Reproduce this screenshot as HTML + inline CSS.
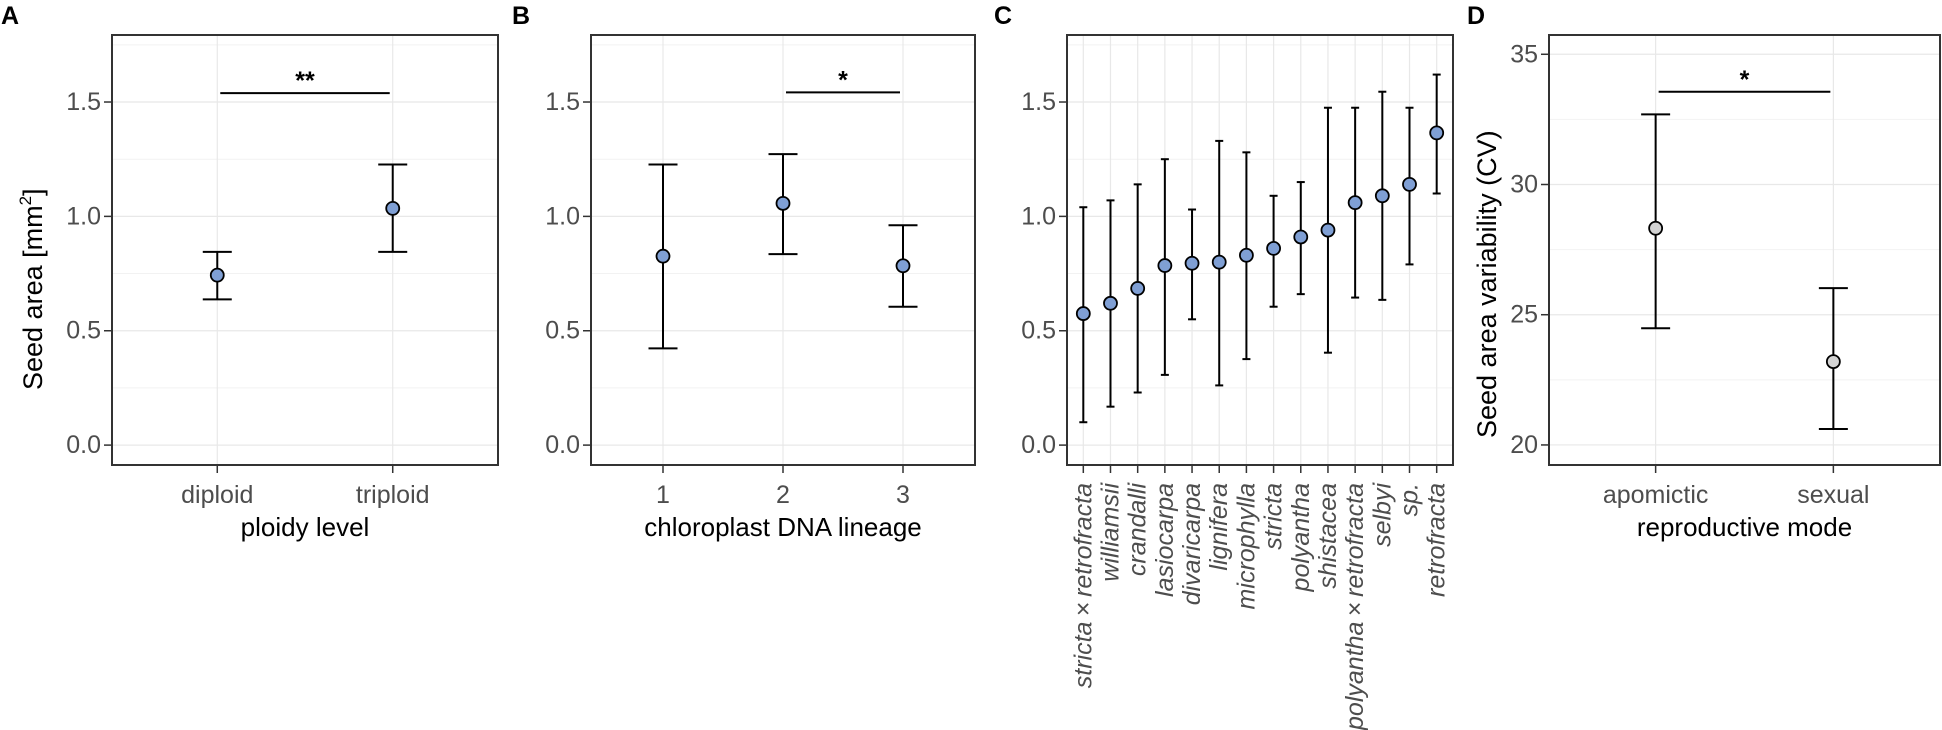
<!DOCTYPE html>
<html><head><meta charset="utf-8"><style>
html,body{margin:0;padding:0;background:#fff;}
svg{display:block;font-family:"Liberation Sans",Arial,sans-serif;}
</style></head><body>
<svg id="fig" width="1942" height="730" viewBox="0 0 1942 730" xmlns="http://www.w3.org/2000/svg">
  <text x="0" y="0" transform="translate(42,390) rotate(-90)" font-size="27" fill="#000">Seed area [mm<tspan dy="-11" font-size="17">2</tspan><tspan dy="11">]</tspan></text>
  <text x="0" y="0" transform="translate(1496,438) rotate(-90)" font-size="27" fill="#000">Seed area variability (CV)</text>
</svg>
<script>
// ---- Data ----
const catsA = ["diploid","triploid"];
const meanA = [0.743, 1.035];
const upA = [0.845, 1.227];
const loA = [0.637, 0.845];

const catsB = ["1","2","3"];
const meanB = [0.826, 1.057, 0.784];
const upB = [1.227, 1.272, 0.961];
const loB = [0.423, 0.835, 0.605];

const catsC = ["stricta\u2009×\u2009retrofracta","williamsii","crandalli","lasiocarpa","divaricarpa","lignifera","microphylla","stricta","polyantha","shistacea","polyantha\u2009×\u2009retrofracta","selbyi","sp.","retrofracta"];
const meanC = [0.575,0.62,0.685,0.785,0.795,0.80,0.83,0.86,0.91,0.94,1.06,1.09,1.14,1.365];
const upC = [1.04,1.07,1.14,1.25,1.03,1.33,1.28,1.09,1.15,1.475,1.475,1.545,1.475,1.62];
const loC = [0.10,0.168,0.23,0.307,0.55,0.261,0.376,0.605,0.66,0.404,0.645,0.635,0.79,1.10];

const catsD = ["apomictic","sexual"];
const meanD = [28.32, 23.2];
const upD = [32.69, 26.02];
const loD = [24.48, 20.61];

const ticksArea = [0, 0.5, 1.0, 1.5];
const tickLabelsArea = ["0.0","0.5","1.0","1.5"];
const minorArea = [0.25, 0.75, 1.25, 1.75];
const ticksCV = [20, 25, 30, 35];
const minorCV = [22.5, 27.5, 32.5];

const NS = "http://www.w3.org/2000/svg";
const svg = document.getElementById('fig');
function el(tag, attrs, parent, text){
  const e = document.createElementNS(NS, tag);
  for (const k in attrs) e.setAttribute(k, attrs[k]);
  if (text !== undefined) e.textContent = text;
  (parent || svg).appendChild(e);
  return e;
}

const TOP = 35, BOT = 465;

function panel(cfg){
  const g = el('g', {});
  
  
  const n = cfg.cats.length;
  const step = (cfg.right - cfg.left) / (n - 1 + 1.2);
  const x = i => cfg.left + step * (0.6 + i);
  const y = v => BOT - (v - cfg.ymin) / (cfg.ymax - cfg.ymin) * (BOT - TOP);
  cfg.minor.forEach(v => {
    const l = el('line', {x1:cfg.left, x2:cfg.right, y1:y(v), y2:y(v), stroke:'#f2f2f2', 'stroke-width':1}, g);
    
    
  });
  cfg.ticks.forEach(v => {
    const l = el('line', {x1:cfg.left, x2:cfg.right, y1:y(v), y2:y(v), stroke:'#e8e8e8', 'stroke-width':1.2}, g);
    
    
  });
  cfg.cats.forEach((c, i) => {
    const l = el('line', {x1:x(i), x2:x(i), y1:TOP, y2:BOT, stroke:'#e8e8e8', 'stroke-width':1.2}, g);
    
    
  });
  cfg.ticks.forEach((v, i) => {
    el('line', {x1:cfg.left-8, x2:cfg.left, y1:y(v), y2:y(v), stroke:'#333', 'stroke-width':1.5}, g);
    const t = el('text', {x:cfg.left-11, y:y(v), 'text-anchor':'end', 'dominant-baseline':'central', 'font-size':25, fill:'#4d4d4d'}, g, cfg.tickLabels[i]);
    
    
  });
  cfg.cats.forEach((c, i) => {
    el('line', {x1:x(i), x2:x(i), y1:BOT, y2:BOT+8, stroke:'#333', 'stroke-width':1.5}, g);
    let t;
    if (cfg.rotate) {
      t = el('text', {x:0, y:0, 'text-anchor':'end', 'dominant-baseline':'central', 'font-size':25, 'font-style':'italic', fill:'#4d4d4d', transform:`translate(${x(i)},${BOT+18}) rotate(-90)`}, g, c);
    } else {
      t = el('text', {x:x(i), y:495, 'text-anchor':'middle', 'dominant-baseline':'central', 'font-size':25, fill:'#4d4d4d'}, g, c);
    }
    
    
  });
  cfg.cats.forEach((c, i) => {
    const eb = el('g', {}, g);
    
    
    el('line', {x1:x(i), x2:x(i), y1:y(cfg.up[i]), y2:y(cfg.lo[i]), stroke:'#000', 'stroke-width':2}, eb);
    el('line', {x1:x(i)-cfg.cap, x2:x(i)+cfg.cap, y1:y(cfg.up[i]), y2:y(cfg.up[i]), stroke:'#000', 'stroke-width':2}, eb);
    el('line', {x1:x(i)-cfg.cap, x2:x(i)+cfg.cap, y1:y(cfg.lo[i]), y2:y(cfg.lo[i]), stroke:'#000', 'stroke-width':2}, eb);
    const p = el('circle', {cx:x(i), cy:y(cfg.mean[i]), r:6.5, fill:cfg.fill, stroke:'#000', 'stroke-width':1.8}, g);
    
    
  });
  if (cfg.sig) {
    const s = cfg.sig;
    const l = el('line', {x1:x(s.from)+3, x2:x(s.to)-3, y1:y(s.v), y2:y(s.v), stroke:'#000', 'stroke-width':2}, g);
    
    
    const t = el('text', {x:(x(s.from)+x(s.to))/2, y:y(s.v)-4, 'text-anchor':'middle', 'font-size':25, 'font-weight':'bold', fill:'#000'}, g, s.label);
    
    
  }
  const b = el('rect', {x:cfg.left, y:TOP, width:cfg.right-cfg.left, height:BOT-TOP, fill:'none', stroke:'#333', 'stroke-width':2}, g);
  
  
  const L = el('text', {x:cfg.letterX, y:24, 'font-size':25, 'font-weight':'bold', fill:'#000'}, g, cfg.letter);
  
  
  if (cfg.xtitle) {
    const t = el('text', {x:(cfg.left+cfg.right)/2, y:527, 'text-anchor':'middle', 'dominant-baseline':'central', 'font-size':26, fill:'#000'}, g, cfg.xtitle);
    
    
  }
}

panel({name:'panel-a', letter:'A', letterX:1, left:112, right:498, ymin:-0.087, ymax:1.793,
  cats:catsA, mean:meanA, up:upA, lo:loA, ticks:ticksArea, tickLabels:tickLabelsArea, minor:minorArea,
  cap:14.5, fill:'#7f9fd4', xtitle:'ploidy level', sig:{from:0, to:1, v:1.539, label:'**'}});
panel({name:'panel-b', letter:'B', letterX:512, left:591, right:975, ymin:-0.087, ymax:1.793,
  cats:catsB, mean:meanB, up:upB, lo:loB, ticks:ticksArea, tickLabels:tickLabelsArea, minor:minorArea,
  cap:14.5, fill:'#7f9fd4', xtitle:'chloroplast DNA lineage', sig:{from:1, to:2, v:1.542, label:'*'}});
panel({name:'panel-c', letter:'C', letterX:994, left:1067, right:1453, ymin:-0.087, ymax:1.793,
  cats:catsC, mean:meanC, up:upC, lo:loC, ticks:ticksArea, tickLabels:tickLabelsArea, minor:minorArea,
  cap:4, fill:'#7f9fd4', rotate:true});
panel({name:'panel-d', letter:'D', letterX:1467, left:1549, right:1940, ymin:19.23, ymax:35.74,
  cats:catsD, mean:meanD, up:upD, lo:loD, ticks:ticksCV, tickLabels:ticksCV.map(String), minor:minorCV,
  cap:14.5, fill:'#d3d3d3', xtitle:'reproductive mode', sig:{from:0, to:1, v:33.56, label:'*'}});
</script>
</body></html>
